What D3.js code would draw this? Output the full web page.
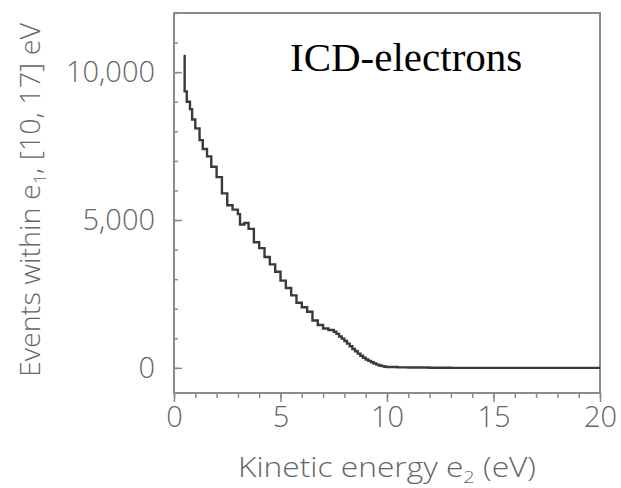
<!DOCTYPE html>
<html>
<head>
<meta charset="utf-8">
<script src="https://d3js.org/d3.v7.min.js"></script>
<style>
  body { margin: 0; background: #fff; }
  .axis text { font-family: "Open Sans", "Noto Sans", sans-serif; font-weight: 300; fill: #666; }
  .axis line { stroke: #8a8a8a; stroke-width: 1.5; }
</style>
</head>
<body>
<svg width="621" height="488"></svg>
<script>
// kinetic energy e2 (eV) at the left edge of each bin, and events per bin
var energy = [0.45, 0.5, 0.6, 0.75, 0.85, 1.0, 1.2, 1.35, 1.55, 1.75, 2.0, 2.25, 2.5, 2.75, 3.0, 3.1,
              3.3, 3.5, 3.75, 4.0, 4.25, 4.5, 4.75, 5.0, 5.25, 5.5, 5.75, 6.0, 6.25, 6.5, 6.75, 7.0,
              7.25, 7.5, 7.625, 7.75, 7.875, 8.0, 8.125, 8.25, 8.375, 8.5, 8.625, 8.75, 8.875,
              9.0, 9.125, 9.25, 9.375, 9.5, 9.625, 9.75, 9.875, 10.0, 10.5, 11, 12, 13, 20];
var events = [10550, 9350, 9000, 8750, 8400, 8100, 7700, 7400, 7150, 6800, 6450, 5900, 5500, 5350, 5200, 4850,
              4900, 4700, 4250, 4050, 3750, 3500, 3250, 2950, 2700, 2450, 2200, 2050, 1900, 1600, 1450, 1330,
              1280, 1220, 1150, 1060, 990, 910, 820, 730, 640, 560, 480, 410, 340,
              285, 235, 190, 150, 110, 80, 60, 40, 30, 15, 10, 5, 0, 0];

var xTicks = [0, 5, 10, 15, 20];
var yTicks = [0, 5000, 10000];

var svg = d3.select("svg");

var x = d3.scaleLinear().domain([0, 20]).range([174, 600]);
var y = d3.scaleLinear().domain([-850, 12000]).range([393, 13]);

// minor ticks
svg.append("g")
    .attr("class", "axis")
    .attr("transform", "translate(0,393)")
    .call(d3.axisBottom(x).tickValues(d3.range(0, 21)).tickSize(5).tickFormat(""))
    .select(".domain").remove();

svg.append("g")
    .attr("class", "axis")
    .attr("transform", "translate(174,0)")
    .call(d3.axisLeft(y).tickValues(d3.range(0, 12001, 1000)).tickSize(-4).tickFormat(""))
    .select(".domain").remove();

// major ticks + labels
var gx = svg.append("g")
    .attr("class", "axis")
    .attr("transform", "translate(0,393)")
    .call(d3.axisBottom(x).tickValues(xTicks).tickSize(9).tickPadding(4));
gx.select(".domain").remove();
gx.selectAll("text").style("font-size", "29px");

var gy = svg.append("g")
    .attr("class", "axis")
    .attr("transform", "translate(174,0)")
    .call(d3.axisLeft(y).tickValues(yTicks).tickSize(-8).tickPadding(19).tickFormat(d3.format(",")));
gy.select(".domain").remove();
gy.selectAll("text").style("font-size", "29px");

// frame
svg.append("rect")
    .attr("x", x(0)).attr("y", y(12000))
    .attr("width", x(20) - x(0)).attr("height", y(-850) - y(12000))
    .attr("fill", "none").attr("stroke", "#8a8a8a").attr("stroke-width", 2);

// spectrum
var line = d3.line()
    .x(function(d, i) { return x(energy[i]); })
    .y(function(d) { return y(d); })
    .curve(d3.curveStepAfter);

svg.append("path")
    .datum(events)
    .attr("d", line)
    .attr("fill", "none")
    .attr("stroke", "#3a3a3a")
    .attr("stroke-width", 2.4);

// axis titles
var xt = svg.append("text")
    .attr("x", 387).attr("y", 477)
    .attr("text-anchor", "middle")
    .attr("textLength", 298).attr("lengthAdjust", "spacingAndGlyphs")
    .style("font-family", "'Open Sans', sans-serif").style("font-weight", 300)
    .style("font-size", "27px").style("fill", "#666");
xt.append("tspan").text("Kinetic energy e");
xt.append("tspan").attr("dy", 6).style("font-size", "17px").text("2");
xt.append("tspan").attr("dy", -6).text(" (eV)");

var yt = svg.append("text")
    .attr("transform", "translate(40,200) rotate(-90)")
    .attr("text-anchor", "middle")
    .attr("textLength", 354).attr("lengthAdjust", "spacingAndGlyphs")
    .style("font-family", "'Open Sans', sans-serif").style("font-weight", 300)
    .style("font-size", "27px").style("fill", "#666");
yt.append("tspan").text("Events within e");
yt.append("tspan").attr("dy", 6).style("font-size", "17px").text("1");
yt.append("tspan").attr("dy", -6).text(", [10, 17] eV");

// annotation
svg.append("text")
    .attr("x", 290).attr("y", 71)
    .style("font-family", "'Liberation Serif', 'Times New Roman', serif")
    .style("font-size", "41px").style("fill", "#000")
    .text("ICD-electrons");
</script>
</body>
</html>
